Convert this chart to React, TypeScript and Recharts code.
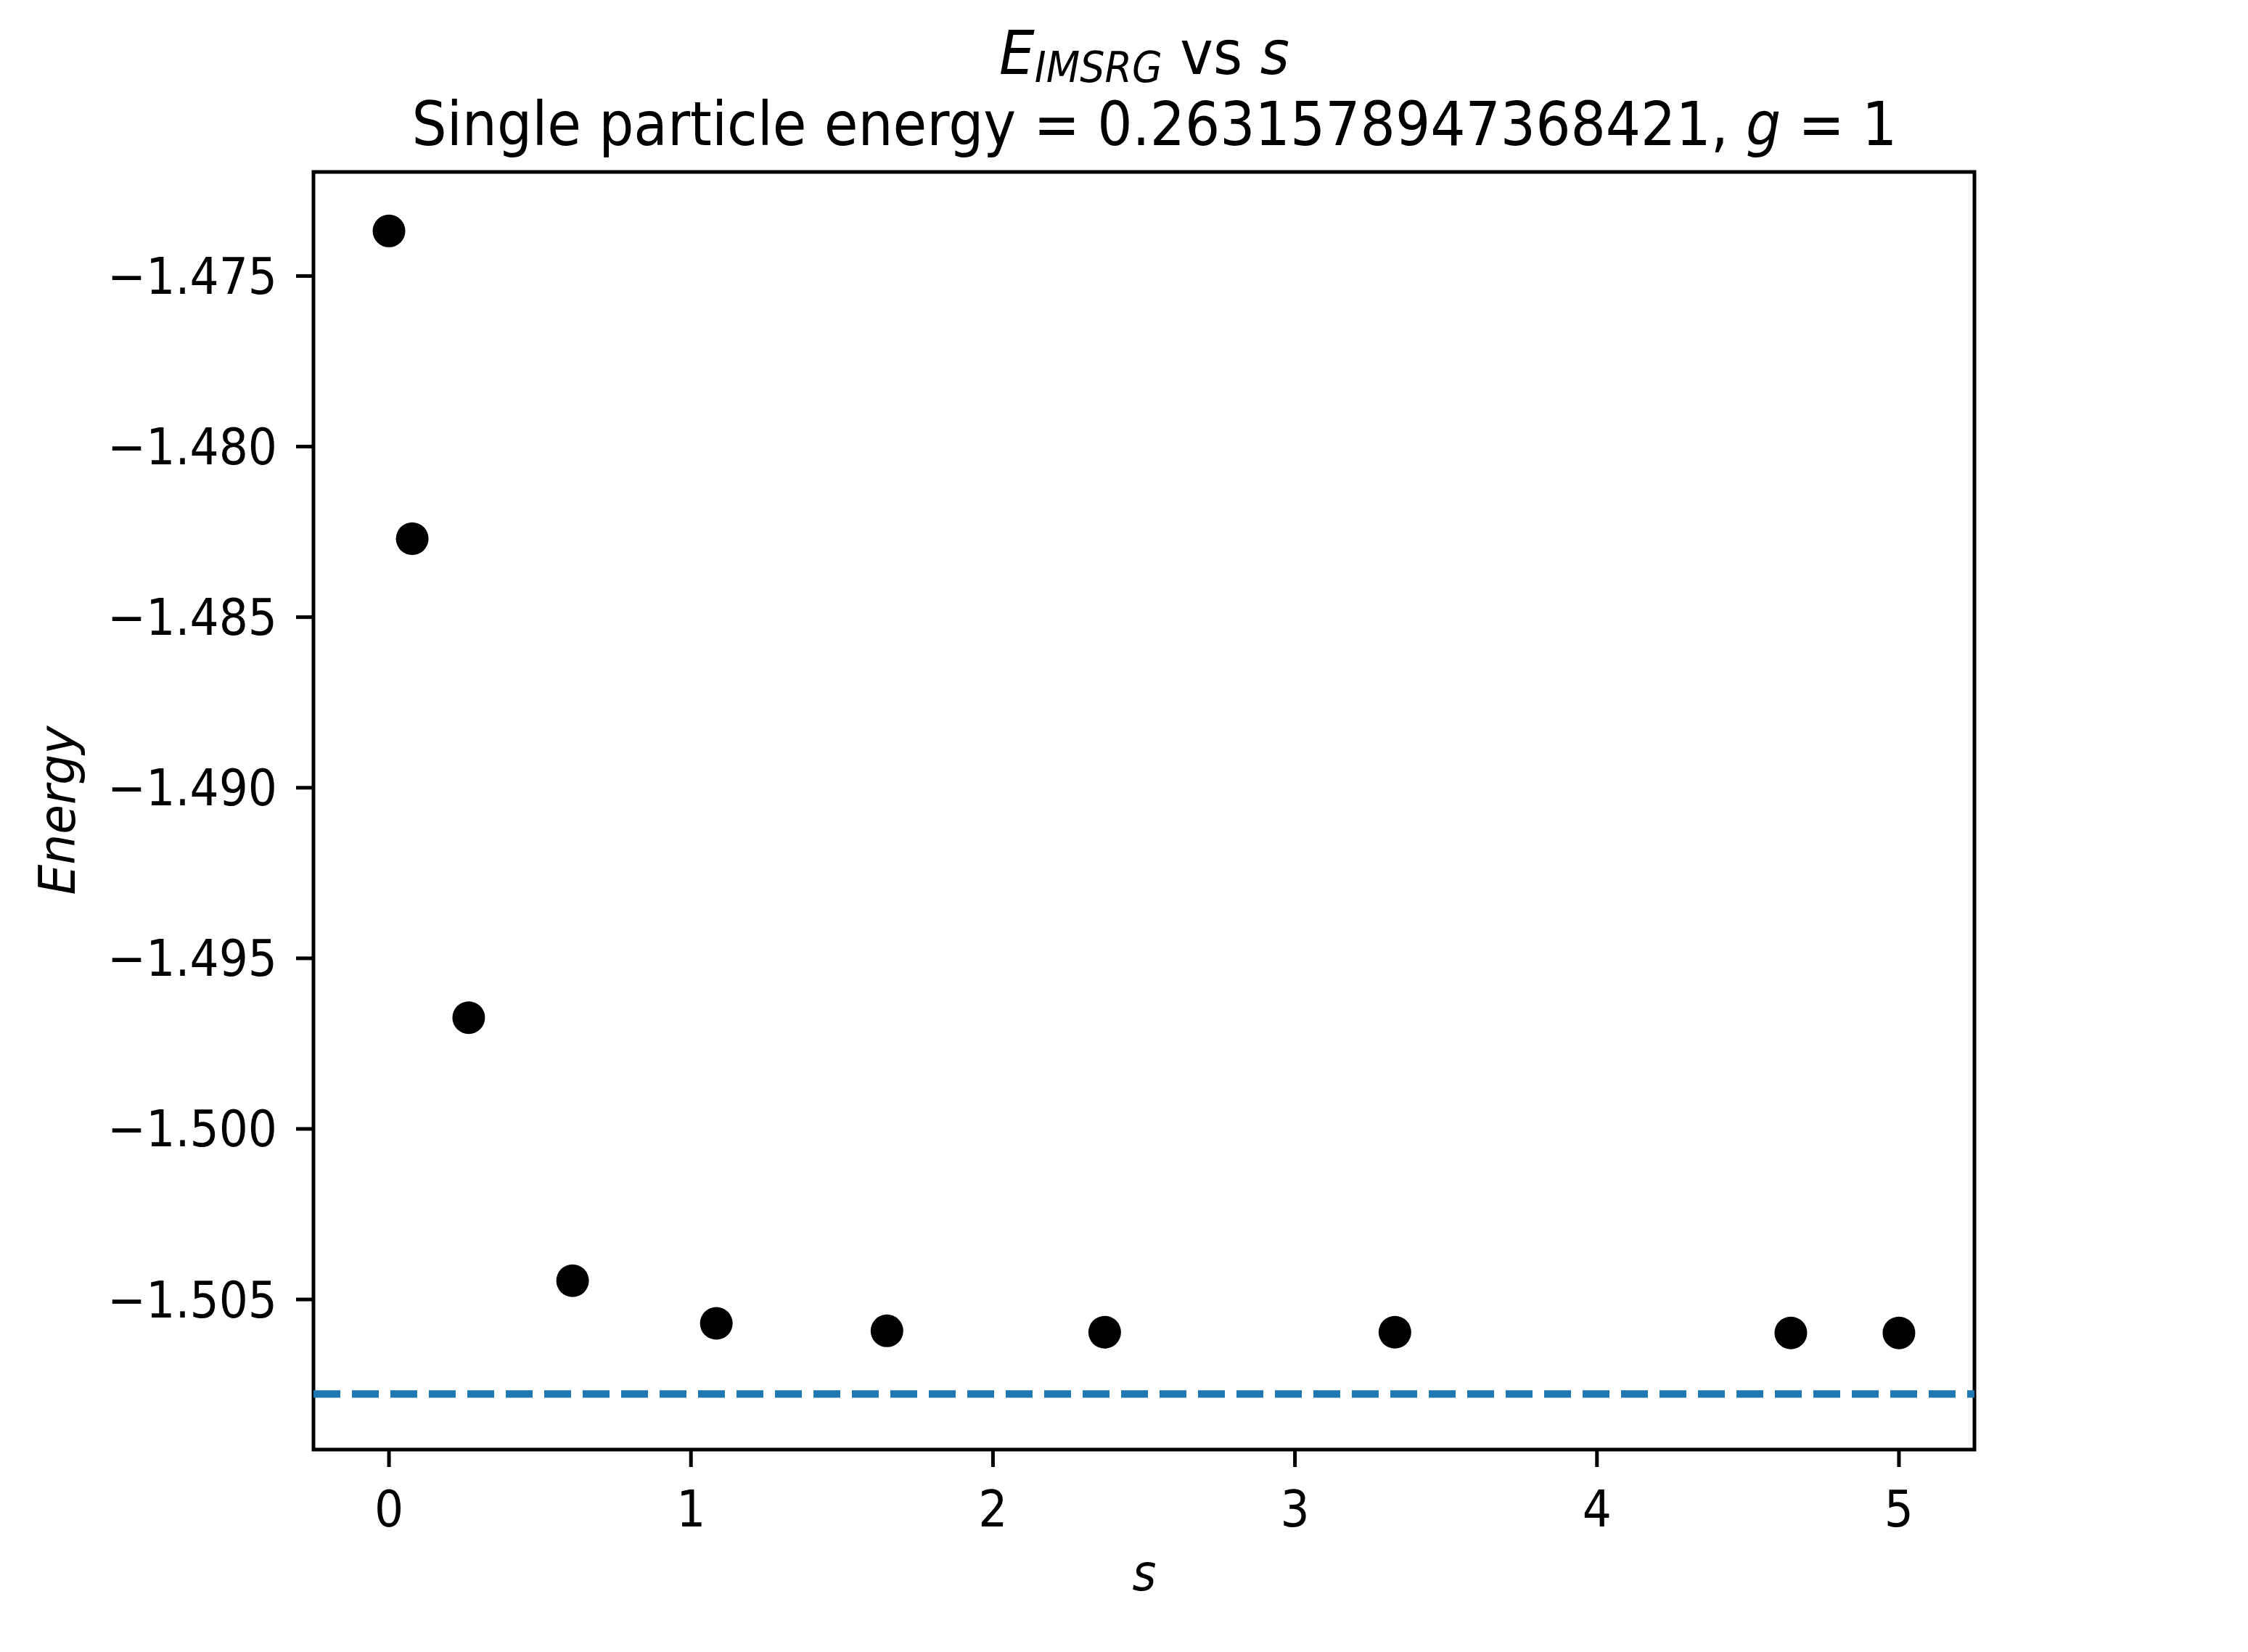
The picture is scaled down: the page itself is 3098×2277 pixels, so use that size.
import {
  ScatterChart,
  Scatter,
  XAxis,
  YAxis,
  ReferenceLine,
  ReferenceArea,
} from "recharts";

// flow parameter s and the IMSRG energy at each step
const sValues = [0, 0.077, 0.264, 0.608, 1.084, 1.649, 2.37, 3.331, 4.642, 5.0];
const energyValues = [
  -1.47368, -1.4827, -1.49674, -1.50445, -1.5057, -1.50592, -1.50596,
  -1.50596, -1.50598, -1.50598,
];
// exact (diagonalisation) energy, dashed line
const exactEnergy = -1.50777;

const xTicks = [0, 1, 2, 3, 4, 5];
const yTicks = [-1.505, -1.5, -1.495, -1.49, -1.485, -1.48, -1.475];

const points = sValues.map((s, i) => ({ s, energy: energyValues[i] }));

const xDomain: [number, number] = [-0.25, 5.25];
const yDomain: [number, number] = [-1.5094, -1.47195];

const FONT = "DejaVu Sans";
const SQ = 0.915; // horizontal squeeze so glyph widths match the reference

const fmtY = (v: number) => {
  const t = Math.abs(v).toFixed(3);
  return v < 0 ? "\u2212" + t : t;
};

const squeeze = (x: number, k = SQ) =>
  `translate(${x},0) scale(${k},1) translate(${-x},0)`;

const Dot = (p: any) => <circle cx={p.cx} cy={p.cy} r={22.5} fill="#000" />;

const XTick = (p: any) => (
  <text
    x={p.x}
    y={p.y}
    dy="0.71em"
    textAnchor="middle"
    fontSize={69}
    fontFamily={FONT}
    fill="#000"
    transform={squeeze(p.x)}
  >
    {p.payload.value}
  </text>
);

const YTick = (p: any) => (
  <text
    x={p.x}
    y={p.y}
    dy="0.355em"
    textAnchor="end"
    fontSize={69}
    fontFamily={FONT}
    fill="#000"
    transform={squeeze(p.x)}
  >
    {fmtY(p.payload.value)}
  </text>
);

export default function App() {
  return (
    <div
      style={{
        position: "absolute",
        left: 0,
        top: 0,
        width: 3098,
        height: 2277,
        background: "#fff",
      }}
    >
      <ScatterChart
        width={3098}
        height={2277}
        margin={{ top: 237, right: 377, bottom: 79, left: 132 }}
      >
        <XAxis
          type="number"
          dataKey="s"
          domain={xDomain}
          ticks={xTicks}
          allowDataOverflow
          height={200}
          axisLine={false}
          tickSize={24}
          tickMargin={33}
          tickLine={{ stroke: "#000", strokeWidth: 5 }}
          tick={XTick}
        />
        <YAxis
          type="number"
          dataKey="energy"
          domain={yDomain}
          ticks={yTicks}
          allowDataOverflow
          width={300}
          axisLine={false}
          tickSize={24}
          tickMargin={26}
          tickLine={{ stroke: "#000", strokeWidth: 5 }}
          tick={YTick}
        />
        <ReferenceLine
          y={exactEnergy}
          stroke="#1f77b4"
          strokeWidth={10.4}
          strokeDasharray="37 16"
        />
        <Scatter
          data={points}
          fill="#000"
          shape={Dot}
          isAnimationActive={false}
        />
        <ReferenceArea
          x1={xDomain[0]}
          x2={xDomain[1]}
          y1={yDomain[0]}
          y2={yDomain[1]}
          fill="none"
          fillOpacity={0}
          stroke="#000"
          strokeWidth={5}
        />
      </ScatterChart>
      <svg
        width={3098}
        height={2277}
        style={{ position: "absolute", left: 0, top: 0, pointerEvents: "none" }}
        fontFamily={FONT}
      >
        <text
          x={1577}
          y={102}
          textAnchor="middle"
          fontSize={83}
          fill="#000"
          transform={squeeze(1577, 0.93)}
        >
          <tspan fontStyle="italic">E</tspan>
          <tspan fontStyle="italic" fontSize={58} dy={11}>
            IMSRG
          </tspan>
          <tspan dy={-11}> vs </tspan>
          <tspan fontStyle="italic">s</tspan>
        </text>
        <text
          x={1591}
          y={200}
          textAnchor="middle"
          fontSize={83}
          fill="#000"
          transform={squeeze(1591)}
        >
          <tspan>Single particle energy = 0.2631578947368421, </tspan>
          <tspan fontStyle="italic">g</tspan>
          <tspan> = 1</tspan>
        </text>
        <text
          x={1577}
          y={2192}
          textAnchor="middle"
          fontSize={69}
          fontStyle="italic"
          fill="#000"
          transform={squeeze(1577)}
        >
          s
        </text>
        <text
          x={103}
          y={1117}
          transform="rotate(-90 103 1117) translate(103,0) scale(0.96,1) translate(-103,0)"
          textAnchor="middle"
          fontSize={69}
          fontStyle="italic"
          fill="#000"
        >
          Energy
        </text>
      </svg>
    </div>
  );
}
